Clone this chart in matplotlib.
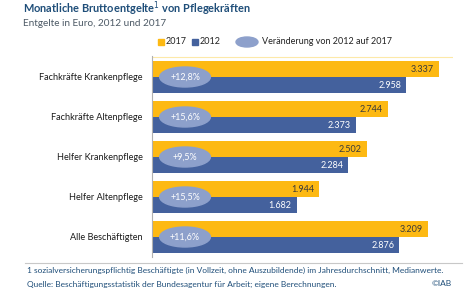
import matplotlib
matplotlib.use("Agg")
import matplotlib.pyplot as plt
from matplotlib.patches import Ellipse, Rectangle

plt.rcParams['font.family'] = ['Lato', 'DejaVu Sans']

# data
categories = ["Fachkräfte Krankenpflege", "Fachkräfte Altenpflege", "Helfer Krankenpflege",
              "Helfer Altenpflege", "Alle Beschäftigten"]
wages_2017 = [3337, 2744, 2502, 1944, 3209]
wages_2012 = [2958, 2373, 2284, 1682, 2876]
changes = ["+12,8%", "+15,6%", "+9,5%", "+15,5%", "+11,6%"]

yellow = "#FDB913"
blue = "#44619D"
pill = "#8DA0CB"
navy = "#1F4E79"

W, H = 474, 295
fig = plt.figure(figsize=(W / 100, H / 100), dpi=100)


def fx(px):
    return px / W


def fy(py):
    return 1 - py / H


# bar axes: left 152, right 453, top 56, bottom 257 (pixels)
ax = fig.add_axes([fx(152), fy(257), fx(453 - 152), (257 - 56) / H])
ys = list(range(len(categories)))
ax.barh([y - 0.2 for y in ys], wages_2017, height=0.41, color=yellow, zorder=2)
ax.barh([y + 0.2 for y in ys], wages_2012, height=0.41, color=blue, zorder=2)
ax.set_xlim(0, 3500)
ax.set_ylim(4.5, -0.525)

for y, v17, v12, ch in zip(ys, wages_2017, wages_2012, changes):
    ax.text(v17 - 60, y - 0.2, f"{v17:,}".replace(",", "."), ha="right", va="center",
            fontsize=6.5, color="#3a3a3a", zorder=3)
    ax.text(v12 - 60, y + 0.2, f"{v12:,}".replace(",", "."), ha="right", va="center",
            fontsize=6.5, color="white", zorder=3)
    ax.add_patch(Ellipse((384, y), 590, 0.5, color=pill, zorder=4))
    ax.text(384, y, ch, ha="center", va="center", fontsize=6.5, color="white", zorder=5)
    ax.text(-110, y, categories[y], ha="right", va="center", fontsize=6.6,
            color="#1a1a1a", clip_on=False)

for s in ["top", "right", "bottom"]:
    ax.spines[s].set_visible(False)
ax.spines["left"].set_color("#b0b0b0")
ax.spines["left"].set_linewidth(0.8)
ax.set_xticks([])
ax.set_yticks([])
ax.axhline(-0.5, color="#fde9a8", lw=0.8, zorder=1)

# title
fig.text(fx(23), fy(9), "Monatliche Bruttoentgelte$^{1}$ von Pflegekräften", fontsize=7.9,
         fontweight="bold", color=navy, va="center")
fig.text(fx(23), fy(24), "Entgelte in Euro, 2012 und 2017", fontsize=7.2, color="#4d5a66",
         va="center")

# legend
fig.patches.append(Rectangle((fx(158), fy(45)), fx(6), 6 / H, color=yellow,
                             transform=fig.transFigure))
fig.text(fx(166), fy(42), "2017", fontsize=6.5, color="#222222", va="center")
fig.patches.append(Rectangle((fx(192), fy(45)), fx(6), 6 / H, color=blue,
                             transform=fig.transFigure))
fig.text(fx(200), fy(42), "2012", fontsize=6.5, color="#222222", va="center")
fig.patches.append(Ellipse((fx(247), fy(42)), fx(22), 10 / H, color=pill,
                           transform=fig.transFigure))
fig.text(fx(262), fy(42), "Veränderung von 2012 auf 2017", fontsize=6.5, color="#222222",
         va="center")

# footer
fig.add_artist(plt.Line2D([fx(25), fx(462)], [fy(263), fy(263)], color="#c8c8c8", lw=0.8,
                          transform=fig.transFigure))
fig.text(fx(27), fy(270), "1 sozialversicherungspflichtig Beschäftigte (in Vollzeit, ohne "
         "Auszubildende) im Jahresdurchschnitt, Medianwerte.", fontsize=6.0, color=navy,
         va="center")
fig.text(fx(27), fy(284), "Quelle: Beschäftigungsstatistik der Bundesagentur für Arbeit; "
         "eigene Berechnungen.", fontsize=6.0, color=navy, va="center")
fig.text(fx(452), fy(284), "©IAB", fontsize=6.0, color=navy, va="center", ha="right")

fig.savefig("out.png", dpi=100)
